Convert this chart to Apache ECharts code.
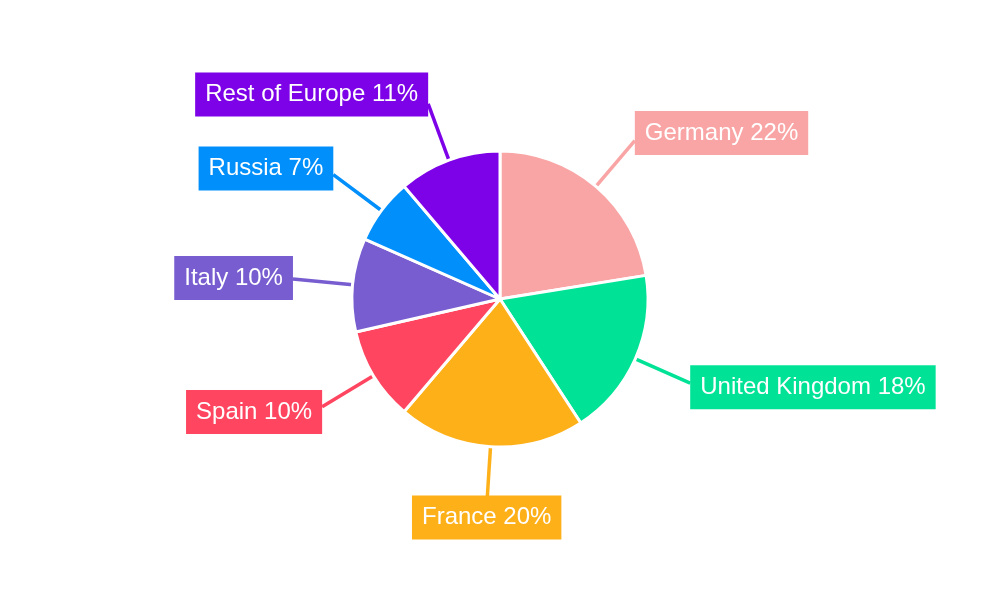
<!DOCTYPE html>
<html><head><meta charset="utf-8">
<script src="https://cdn.jsdelivr.net/npm/echarts@6/dist/echarts.min.js"></script>
<style>html,body{margin:0;padding:0;background:#fff}#c{width:1000px;height:600px}</style>
</head><body><div id="c"></div>
<script>
const categories = ['Germany', 'United Kingdom', 'France', 'Spain', 'Italy', 'Russia', 'Rest of Europe'];
const values = [22, 18, 20, 10, 10, 7, 11];
const colors = ['#F9A5A5', '#00E396', '#FEB019', '#FF4560', '#775DD0', '#008FFB', '#7D02E8'];

const chart = echarts.init(document.getElementById('c'));
chart.setOption({
  animation: false,
  color: colors,
  series: [{
    type: 'pie',
    center: [500, 299],
    radius: 148,
    startAngle: 90,
    clockwise: true,
    avoidLabelOverlap: false,
    itemStyle: { borderColor: '#fff', borderWidth: 3 },
    label: {
      show: true,
      position: 'outside',
      formatter: p => p.name + ' ' + p.value + '%',
      color: '#fff',
      fontFamily: 'Liberation Sans, Arial, sans-serif',
      fontSize: 24,
      padding: [10, 10],
      backgroundColor: 'inherit',
      distanceToLabelLine: 0
    },
    labelLine: { show: true, length: 60, length2: 0, lineStyle: { width: 3.5 } },
    labelLayout: function (params) {
      const pts = params.labelLinePoints;
      if (!pts) return {};
      const p0 = pts[0], p1 = pts[1];
      let dx = p1[0] - p0[0], dy = p1[1] - p0[1];
      const L = Math.sqrt(dx * dx + dy * dy) || 1;
      dx /= L; dy /= L;
      if (Math.abs(dx) < 0.3) {
        return {
          x: p1[0], y: dy > 0 ? p1[1] - 11 : p1[1] + 11,
          align: 'center',
          verticalAlign: dy > 0 ? 'top' : 'bottom',
          labelLinePoints: pts
        };
      }
      return {
        x: p1[0], y: p1[1] + 10 * dy,
        align: dx > 0 ? 'left' : 'right',
        verticalAlign: 'middle',
        labelLinePoints: pts
      };
    },
    data: categories.map((n, i) => ({ name: n, value: values[i] }))
  }]
});
</script></body></html>
